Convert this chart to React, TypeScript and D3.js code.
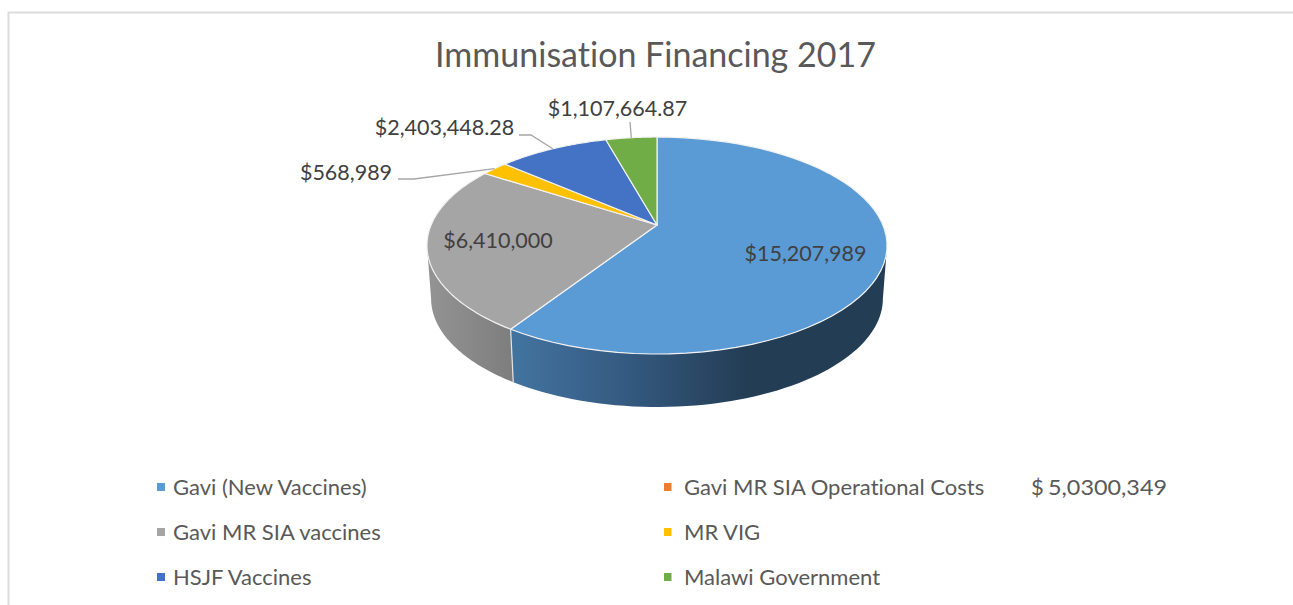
import React from 'react';
import * as d3 from 'd3';

const title = "Immunisation Financing 2017";
const categories = ["Gavi (New Vaccines)", "Gavi MR SIA Operational Costs", "Gavi MR SIA vaccines", "MR VIG", "HSJF Vaccines", "Malawi Government"];
const values = [15207989, 0, 6410000, 568989, 2403448.28, 1107664.87];
const valueLabels = ["$15,207,989", "", "$6,410,000", "$568,989", "$2,403,448.28", "$1,107,664.87"];
const colors = ["#5b9bd5", "#ed7d31", "#a5a5a5", "#ffc000", "#4472c4", "#70ad47"];

const W = 1293;
const H = 605;
const font = "Lato, 'Open Sans', sans-serif";
const noLig = { fontVariantLigatures: 'none' } as React.CSSProperties;

// perspective of the pie's top face
const cx = 657;
const cy = 225;
const persp = -0.189;
const yBack = 62.1;
const R = 225.9;
const depth = 53;
const bottomScale = 0.982;

const topPoint = (a: number): [number, number] => {
    const s = Math.sin(a);
    const t = -Math.cos(a);
    const d = 1 + persp * t;
    return [cx + (R * s) / d, (cy + yBack * t) / d];
};
const bottomPoint = (a: number): [number, number] => {
    const [x, y] = topPoint(a);
    return [cx + (x - cx) * bottomScale, y + depth];
};

const line = d3.line();
const steps = (a0: number, a1: number) => d3.range(0, 61).map((i) => a0 + ((a1 - a0) * i) / 60);

const pie = d3.pie<number>().sort(null).value((d) => d);
const slices = pie(values);

// the side wall is only visible between the two silhouette points
const sideStart = Math.acos(persp);
const sideEnd = 2 * Math.PI - sideStart;

const sideWall = (a0: number, a1: number) => {
    const from = Math.max(a0, sideStart);
    const to = Math.min(a1, sideEnd);
    if (to <= from) return null;
    const rim = steps(from, to);
    return line([...rim.map(topPoint), ...rim.slice().reverse().map(bottomPoint)]) + "Z";
};

const topSlice = (a0: number, a1: number) =>
    line([[cx, cy], ...steps(a0, a1).map(topPoint)]) + "Z";

// label positions, one per category
const labelX = [805.5, 0, 498, 346, 444.5, 617.5];
const labelY = [253, 0, 240, 172, 127, 108];
// leader line: start and elbow, the end sits on the slice's rim
const leaders: { i: number; start: [number, number]; elbow: [number, number] }[] = [
    { i: 3, start: [398, 179], elbow: [414, 179] },
    { i: 4, start: [519, 135], elbow: [531, 135] },
    { i: 5, start: [630, 122], elbow: [630, 122] },
];

const legendCols = [157, 664];
const legendRows = [487, 532, 577];

const App = () => {
    const grayId = "sideGray";
    const blueId = "sideBlue";
    return (
        <svg width={W} height={H} style={{ position: 'fixed', left: 0, top: 0, background: '#fff' }}>
            <defs>
                <linearGradient id={blueId} gradientUnits="userSpaceOnUse" x1={515} x2={745} y1={0} y2={0}>
                    <stop offset="0" stopColor="#42739f" />
                    <stop offset="0.5" stopColor="#34597f" />
                    <stop offset="1" stopColor="#233d55" />
                </linearGradient>
                <linearGradient id={grayId} gradientUnits="userSpaceOnUse" x1={430} x2={515} y1={0} y2={0}>
                    <stop offset="0" stopColor="#939393" />
                    <stop offset="1" stopColor="#7d7d7d" />
                </linearGradient>
            </defs>

            <path d="M1293,12.5H8.5V605" fill="none" stroke="#dcdcdc" strokeWidth={2} />

            <text x={655.5} y={55.5} dy="0.35em" textAnchor="middle" fontFamily={font} fontSize={34} fill="#595959" style={noLig}>{title}</text>

            {slices.map((s, i) => {
                const d = sideWall(s.startAngle, s.endAngle);
                if (!d) return null;
                const fill = i === 0 ? `url(#${blueId})` : `url(#${grayId})`;
                return <path key={i} d={d} fill={fill} stroke="none" />;
            })}
            <path
                d={line([topPoint(slices[0].endAngle), bottomPoint(slices[0].endAngle)]) ?? ""}
                stroke="#e4e4e4"
                strokeWidth={1.2}
                fill="none"
            />

            {slices.map((s, i) =>
                s.value > 0 ? (
                    <path
                        key={i}
                        d={topSlice(s.startAngle, s.endAngle)}
                        fill={colors[i]}
                        stroke="#f2f2f2"
                        strokeWidth={1.2}
                        strokeLinejoin="round"
                    />
                ) : null
            )}

            {leaders.map(({ i, start, elbow }) => {
                const mid = (slices[i].startAngle + slices[i].endAngle) / 2;
                return (
                    <path
                        key={i}
                        d={line([start, elbow, topPoint(mid)]) ?? ""}
                        fill="none"
                        stroke="#a6a6a6"
                        strokeWidth={1.3}
                    />
                );
            })}

            {valueLabels.map((t, i) =>
                t ? (
                    <text key={i} x={labelX[i]} y={labelY[i]} dy="0.35em" textAnchor="middle" fontFamily={font} fontSize={21.5} fill="#404040">
                        {t}
                    </text>
                ) : null
            )}

            {categories.map((c, i) => {
                const x = legendCols[i % 2];
                const y = legendRows[Math.floor(i / 2)];
                return (
                    <g key={c}>
                        <rect x={x} y={y - 4} width={i % 2 ? 7.5 : 8} height={8} fill={colors[i]} />
                        <text x={x + (i % 2 ? 20 : 16)} y={y} dy="0.35em" fontFamily={font} fontSize={22} fill="#595959" style={noLig}>{c}</text>
                    </g>
                );
            })}
            <text x={1031} y={legendRows[0]} dy="0.35em" fontFamily={font} fontSize={22} fill="#595959">$</text>
            <text x={1048} y={legendRows[0]} dy="0.35em" fontFamily={font} fontSize={22} fill="#595959" textLength={119} lengthAdjust="spacingAndGlyphs">5,0300,349</text>
        </svg>
    );
};

export default App;
